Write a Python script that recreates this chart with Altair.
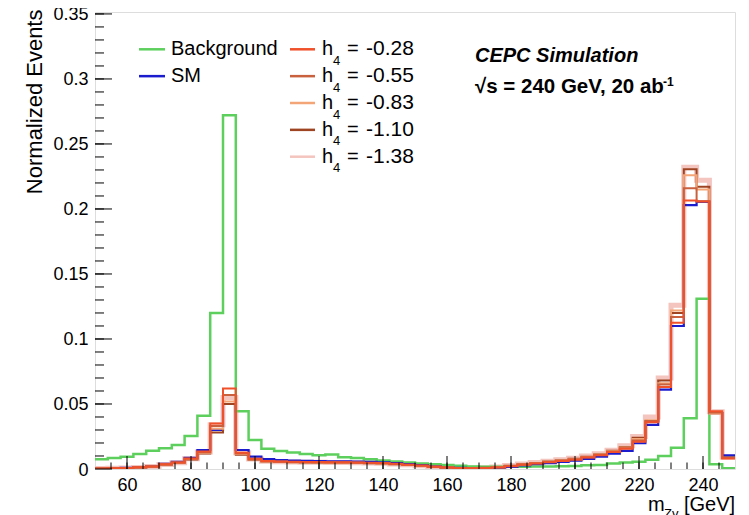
import altair as alt
import pandas as pd

# ---------------- data ----------------
BIN_LOW = 50
BIN_WIDTH = 4

background = [0.0075, 0.0085, 0.0095, 0.0115, 0.0140, 0.0160, 0.0185, 0.0254, 0.0410, 0.1200,
              0.2720, 0.0445, 0.0223, 0.0155, 0.0138, 0.0126, 0.0115, 0.0105, 0.0112, 0.0090,
              0.0085, 0.0075, 0.0066, 0.0058, 0.0050, 0.0043, 0.0037, 0.0030, 0.0025, 0.0020,
              0.0018, 0.0017, 0.0017, 0.0018, 0.0019, 0.0020, 0.0021, 0.0023, 0.0028, 0.0030,
              0.0042, 0.0050, 0.0056, 0.0072, 0.0100, 0.0164, 0.0390, 0.1310, 0.0036, 0.0005]

sm = [0.0004, 0.0006, 0.0009, 0.0015, 0.0022, 0.0040, 0.0055, 0.0085, 0.0146, 0.0300,
      0.0500, 0.0146, 0.0095, 0.0077, 0.0068, 0.0064, 0.0062, 0.0060, 0.0058, 0.0058,
      0.0057, 0.0055, 0.0052, 0.0046, 0.0038, 0.0030, 0.0020, 0.0013, 0.0008, 0.0005,
      0.0005, 0.0009, 0.0017, 0.0027, 0.0037, 0.0045, 0.0055, 0.0064, 0.0078, 0.0095,
      0.0118, 0.0140, 0.0198, 0.0340, 0.0610, 0.1100, 0.2030, 0.2055, 0.0430, 0.0105]

h4_m028 = [0.0003, 0.0005, 0.0008, 0.0013, 0.0020, 0.0036, 0.0050, 0.0080, 0.0135, 0.0350,
           0.0620, 0.0125, 0.0078, 0.0062, 0.0058, 0.0055, 0.0054, 0.0053, 0.0052, 0.0052,
           0.0050, 0.0049, 0.0046, 0.0040, 0.0033, 0.0026, 0.0018, 0.0012, 0.0008, 0.0006,
           0.0007, 0.0012, 0.0022, 0.0033, 0.0043, 0.0052, 0.0062, 0.0072, 0.0088, 0.0105,
           0.0130, 0.0155, 0.0210, 0.0360, 0.0630, 0.1125, 0.2065, 0.2058, 0.0445, 0.0080]

h4_m055 = [0.0003, 0.0005, 0.0008, 0.0012, 0.0020, 0.0035, 0.0050, 0.0078, 0.0130, 0.0330,
           0.0570, 0.0120, 0.0075, 0.0060, 0.0056, 0.0053, 0.0052, 0.0051, 0.0050, 0.0050,
           0.0049, 0.0047, 0.0044, 0.0039, 0.0032, 0.0025, 0.0018, 0.0012, 0.0008, 0.0006,
           0.0008, 0.0013, 0.0023, 0.0034, 0.0045, 0.0054, 0.0064, 0.0075, 0.0090, 0.0108,
           0.0133, 0.0160, 0.0220, 0.0370, 0.0650, 0.1170, 0.2160, 0.2060, 0.0435, 0.0085]

h4_m083 = [0.0003, 0.0005, 0.0007, 0.0012, 0.0019, 0.0034, 0.0048, 0.0076, 0.0125, 0.0310,
           0.0520, 0.0115, 0.0073, 0.0058, 0.0055, 0.0052, 0.0051, 0.0050, 0.0049, 0.0049,
           0.0048, 0.0046, 0.0043, 0.0038, 0.0031, 0.0024, 0.0017, 0.0011, 0.0008, 0.0006,
           0.0008, 0.0014, 0.0024, 0.0035, 0.0046, 0.0056, 0.0066, 0.0077, 0.0093, 0.0111,
           0.0137, 0.0165, 0.0230, 0.0375, 0.0660, 0.1220, 0.2260, 0.2150, 0.0425, 0.0085]

h4_m110 = [0.0003, 0.0004, 0.0007, 0.0011, 0.0018, 0.0033, 0.0047, 0.0074, 0.0120, 0.0280,
           0.0500, 0.0110, 0.0071, 0.0057, 0.0054, 0.0051, 0.0050, 0.0049, 0.0048, 0.0048,
           0.0047, 0.0045, 0.0042, 0.0037, 0.0030, 0.0024, 0.0017, 0.0011, 0.0008, 0.0006,
           0.0009, 0.0015, 0.0025, 0.0036, 0.0047, 0.0057, 0.0067, 0.0079, 0.0095, 0.0113,
           0.0140, 0.0170, 0.0240, 0.0370, 0.0680, 0.1200, 0.2305, 0.2170, 0.0430, 0.0088]

h4_m138 = [0.0003, 0.0005, 0.0008, 0.0012, 0.0019, 0.0034, 0.0049, 0.0078, 0.0130, 0.0340,
           0.0550, 0.0125, 0.0076, 0.0060, 0.0056, 0.0053, 0.0052, 0.0051, 0.0050, 0.0050,
           0.0049, 0.0047, 0.0044, 0.0039, 0.0032, 0.0025, 0.0018, 0.0012, 0.0008, 0.0007,
           0.0009, 0.0016, 0.0027, 0.0039, 0.0050, 0.0060, 0.0071, 0.0083, 0.0100, 0.0118,
           0.0145, 0.0178, 0.0250, 0.0400, 0.0700, 0.1260, 0.2320, 0.2220, 0.0440, 0.0090]

x_tick_labels = [60, 80, 100, 120, 140, 160, 180, 200, 220, 240]
y_tick_labels = [0, 0.05, 0.1, 0.15, 0.2, 0.25, 0.3, 0.35]
legend_left_labels = ["Background", "SM"]
legend_right_labels = ["-0.28", "-0.55", "-0.83", "-1.10", "-1.38"]

# ---------------- styles ----------------
FONT = "Liberation Sans"
C_BKG = "#5ccf5c"
C_SM = "#1c1ccf"
C_H4 = ["#f0502a", "#c9603e", "#f4a577", "#9e4422", "#f4c4be"]

W, H = 640, 457
OX, OY = 95, 12  # plot origin on the page
X_DOM = [50, 250]
Y_DOM = [0, 0.3515]

xscale = alt.Scale(domain=X_DOM, nice=False, zero=False)
yscale = alt.Scale(domain=Y_DOM, nice=False)

XAX = alt.Axis(values=x_tick_labels, ticks=False, domain=False, grid=False,
               labelFont=FONT, labelFontSize=18, labelColor="black",
               labelPadding=7, title=None)
YAX = alt.Axis(values=y_tick_labels, format="~g", ticks=False, domain=False,
               grid=False, labelFont=FONT, labelFontSize=18, labelColor="black",
               labelPadding=7, labelOffset=1, title="Normalized Events", titleFont=FONT,
               titleFontSize=22, titleFontWeight="normal", titleColor="black",
               titleAngle=-90, titleAlign="right", titleBaseline="middle",
               titleX=-61, titleY=-3)


def hist_df(vals):
    n = len(vals)
    xs = [BIN_LOW + BIN_WIDTH * i for i in range(n)] + [BIN_LOW + BIN_WIDTH * n]
    ys = list(vals) + [vals[-1]]
    return pd.DataFrame({"x": xs, "y": ys})


def hist_layer(vals, color, width):
    return alt.Chart(hist_df(vals)).mark_line(
        interpolate="step-after", color=color, strokeWidth=width, clip=True
    ).encode(
        x=alt.X("x:Q", scale=xscale, axis=XAX, title=None),
        y=alt.Y("y:Q", scale=yscale, axis=YAX, title="Normalized Events"),
    )


layers = []
layers.append(hist_layer(h4_m138, C_H4[4], 5))
layers.append(hist_layer(background, C_BKG, 2.5))
layers.append(hist_layer(sm, C_SM, 2.2))
layers.append(hist_layer(h4_m110, C_H4[3], 2))
layers.append(hist_layer(h4_m083, C_H4[2], 2))
layers.append(hist_layer(h4_m055, C_H4[1], 2))
layers.append(hist_layer(h4_m028, C_H4[0], 2))

# ---------------- inner ticks (ROOT style) ----------------
x_major = pd.DataFrame({"x": x_tick_labels})
x_minor = pd.DataFrame({"x": [55 + 5 * i for i in range(39)]})
y_major = pd.DataFrame({"y": y_tick_labels})
y_minor = pd.DataFrame({"y": [0.01 * i for i in range(1, 36)]})

layers.append(alt.Chart(x_major).mark_rule(color="black", strokeWidth=1).encode(
    x=alt.X("x:Q", scale=xscale, axis=XAX, title=None), y=alt.value(H), y2=alt.value(H - 13)))
layers.append(alt.Chart(x_minor).mark_rule(color="black", strokeWidth=1).encode(
    x=alt.X("x:Q", scale=xscale, axis=XAX, title=None), y=alt.value(H), y2=alt.value(H - 6.5)))
layers.append(alt.Chart(y_major).mark_rule(color="black", strokeWidth=1).encode(
    y=alt.Y("y:Q", scale=yscale, axis=YAX, title="Normalized Events"), x=alt.value(0), x2=alt.value(17)))
layers.append(alt.Chart(y_minor).mark_rule(color="black", strokeWidth=1).encode(
    y=alt.Y("y:Q", scale=yscale, axis=YAX, title="Normalized Events"), x=alt.value(0), x2=alt.value(9)))


# ---------------- annotations ----------------
def txt(text, px, py, size, weight="normal", style="normal", align="left"):
    df = pd.DataFrame({"t": [text], "px": [px - OX], "py": [py - OY]})
    return alt.Chart(df).mark_text(
        font=FONT, fontSize=size, fontWeight=weight, fontStyle=style,
        align=align, baseline="alphabetic", color="black", clip=False
    ).encode(x=alt.X("px:Q", scale=None), y=alt.Y("py:Q", scale=None), text="t:N")


def seg(color, x1, x2, y, width):
    df = pd.DataFrame({"a": [x1 - OX], "b": [x2 - OX], "c": [y - OY]})
    return alt.Chart(df).mark_rule(color=color, strokeWidth=width).encode(
        x=alt.X("a:Q", scale=None), x2="b:Q", y=alt.Y("c:Q", scale=None))


ROW0, DROW = 49.3, 26.85
left_colors = [C_BKG, C_SM]
for i, lab in enumerate(legend_left_labels):
    yy = ROW0 + DROW * i
    layers.append(seg(left_colors[i], 139, 165, yy, 2.5))
    layers.append(txt(lab, 171, yy + 6, 20))

for i, lab in enumerate(legend_right_labels):
    yy = ROW0 + DROW * i
    layers.append(seg(C_H4[i], 290, 315, yy, 2.5))
    layers.append(txt("h", 322, yy + 6, 20))
    layers.append(txt("4", 333, yy + 15.5, 13))
    layers.append(txt("=", 347, yy + 6, 20))
    layers.append(txt(lab, 366, yy + 6, 21))

layers.append(txt("CEPC Simulation", 475, 62, 20, weight="bold", style="italic"))
layers.append(txt("\u221as = 240 GeV, 20 ab", 475, 93, 20.5, weight="bold"))
layers.append(txt("-1", 663, 86, 12, weight="bold"))

layers.append(txt("m", 648, 511, 20))
layers.append(txt("Z\u03b3", 664, 518, 13))
layers.append(txt("[GeV]", 684, 511, 20))

chart = alt.layer(*layers).properties(
    width=W, height=H,
    padding={"left": 87, "top": 4, "right": 6, "bottom": 50},
    autosize=alt.AutoSizeParams(type="none"),
).configure_view(stroke="black", strokeWidth=1).configure(background="white")

chart.save("out.html", embed_options={"renderer": "svg", "actions": False})
